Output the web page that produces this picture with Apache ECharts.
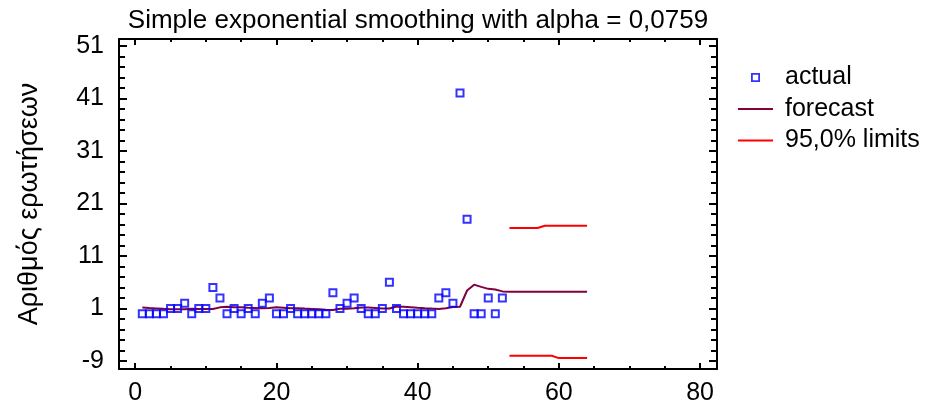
<!DOCTYPE html>
<html><head><meta charset="utf-8">
<script src="https://cdn.jsdelivr.net/npm/echarts@6/dist/echarts.min.js"></script>
<style>html,body{margin:0;padding:0;background:#fff}#c{width:929px;height:408px}</style>
</head><body><div id="c"></div>
<script>
// ---- data ----
const actualValues = [0,0,0,0,1,1,2,0,1,1, 5,3,0,1,0,1,0,2,3,0, 0,1,0,0,0,0,0,4,1,2, 3,1,0,0,1,6,1,0,0,0, 0,0,3,4,2,42,18,0,0,3, 0,3];
const forecastValues = [1.20,1.11,1.03,0.95,0.88,0.89,0.89,0.98,0.90,0.91, 0.92,1.23,1.36,1.26,1.24,1.15,1.13,1.05,1.12,1.26, 1.17,1.08,1.07,0.99,0.92,0.85,0.78,0.72,0.97,0.97, 1.05,1.20,1.19,1.10,1.01,1.01,1.39,1.36,1.26,1.16, 1.07,0.99,0.92,1.07,1.30,1.35,4.44,5.55,5.13,4.75, 4.62,4.27,4.20,4.20,4.20,4.20,4.20,4.20,4.20,4.20, 4.20,4.20,4.20,4.20];
const limitPeriods = [53,54,55,56,57,58,59,60,61,62,63,64];
const upperLimit = [16.33,16.33,16.33,16.33,16.33,16.77,16.77,16.77,16.77,16.77,16.77,16.77];
const lowerLimit = [-7.99,-7.99,-7.99,-7.99,-7.99,-7.99,-7.99,-8.43,-8.43,-8.43,-8.43,-8.43];
const xMajorTicks = [0,20,40,60,80];
const xMinorTicks = [5,10,15,25,30,35,45,50,55,65,70,75];
const yMajorTicks = [-9,1,11,21,31,41,51];
const yMinorTicks = [-7,-5,-3,-1,3,5,7,9,13,15,17,19,23,25,27,29,33,35,37,39,43,45,47,49];
const titleText = 'Simple exponential smoothing with alpha = 0,0759';
const yAxisTitle = 'Αριθμός ερωτήσεων';
const legendNames = ['actual','forecast','95,0% limits'];

// ---- chart ----
const FONT = '"Liberation Sans", Arial, sans-serif';
const X_MIN = -2.3, X_MAX = 82.4, Y_MIN = -10.5, Y_MAX = 52.3;

function xAxis(position, ticks, len, withLabels, withLine) {
  return {
    type: 'value', position, min: X_MIN, max: X_MAX,
    splitLine: {show: false},
    axisLine: {show: withLine, onZero: false, lineStyle: {color: '#000', width: 2}},
    axisTick: {show: true, inside: true, length: len, customValues: ticks, lineStyle: {color: '#000', width: 2}},
    axisLabel: withLabels ? {show: true, customValues: ticks, color: '#000', fontFamily: FONT, fontSize: 25, margin: 12} : {show: false}
  };
}
function yAxis(position, ticks, len, withLabels, withLine) {
  const a = {
    type: 'value', position, min: Y_MIN, max: Y_MAX,
    splitLine: {show: false},
    axisLine: {show: withLine, onZero: false, lineStyle: {color: '#000', width: 2}},
    axisTick: {show: true, inside: true, length: len, customValues: ticks, lineStyle: {color: '#000', width: 2}},
    axisLabel: withLabels ? {show: true, customValues: ticks, color: '#000', fontFamily: FONT, fontSize: 25, margin: 15} : {show: false}
  };
  if (withLabels) {
    a.name = yAxisTitle; a.nameLocation = 'middle'; a.nameGap = 76; a.nameRotate = 90;
    a.nameTextStyle = {color: '#000', fontFamily: FONT, fontSize: 27};
  }
  return a;
}

const LINE_ICON = 'path://M0,0H35V2H0Z';
const chart = echarts.init(document.getElementById('c'), null, {renderer: 'canvas'});
chart.setOption({
  animation: false,
  backgroundColor: '#fff',
  title: {text: titleText, left: 413, textAlign: 'center', top: 3,
    textStyle: {color: '#000', fontFamily: FONT, fontSize: 26, fontWeight: 'normal'}},
  grid: {left: 119, top: 39, right: 212, bottom: 39, containLabel: false, outerBoundsMode: 'none'},
  legend: {
    orient: 'vertical', left: 738, top: 65, padding: 0, itemGap: 6.5,
    itemWidth: 35, itemHeight: 9, symbolKeepAspect: true,
    textStyle: {color: '#000', fontFamily: FONT, fontSize: 25, lineHeight: 25, padding: [0,0,0,7]},
    data: [
      {name: legendNames[0], icon: 'path://M0,0H10V10H0ZM2,2V8H8V2Z', itemStyle: {color: '#0000ff', borderWidth: 0}},
      {name: legendNames[1], icon: LINE_ICON, itemStyle: {color: '#800040', borderWidth: 0}},
      {name: legendNames[2], icon: LINE_ICON, itemStyle: {color: '#ff0000', borderWidth: 0}}
    ]
  },
  xAxis: [
    xAxis('bottom', xMajorTicks, 6, true, true),
    xAxis('bottom', xMinorTicks, 3, false, false),
    xAxis('top', xMajorTicks, 6, false, true),
    xAxis('top', xMinorTicks, 3, false, false)
  ],
  yAxis: [
    yAxis('left', yMajorTicks, 8, true, true),
    yAxis('left', yMinorTicks, 6, false, false),
    yAxis('right', yMajorTicks, 8, false, true),
    yAxis('right', yMinorTicks, 6, false, false)
  ],
  series: [
    {name: legendNames[1], type: 'line', symbol: 'none', xAxisIndex: 0, yAxisIndex: 0,
     lineStyle: {color: '#800040', width: 2}, itemStyle: {color: '#800040'},
     data: forecastValues.map((v, i) => [i + 1, v])},
    {name: legendNames[2], type: 'line', symbol: 'none', xAxisIndex: 0, yAxisIndex: 0,
     lineStyle: {color: '#ff0000', width: 2}, itemStyle: {color: '#ff0000'},
     data: limitPeriods.map((p, i) => [p, upperLimit[i]])},
    {name: legendNames[2], type: 'line', symbol: 'none', xAxisIndex: 0, yAxisIndex: 0,
     lineStyle: {color: '#ff0000', width: 2}, itemStyle: {color: '#ff0000'},
     data: limitPeriods.map((p, i) => [p, lowerLimit[i]])},
    {name: legendNames[0], type: 'scatter', symbol: 'rect', symbolSize: 7, xAxisIndex: 0, yAxisIndex: 0, z: 5,
     itemStyle: {color: 'rgba(0,0,0,0)', borderColor: '#0000ff', borderWidth: 2},
     data: actualValues.map((v, i) => [i + 1, v])}
  ]
});
</script>
</body></html>
